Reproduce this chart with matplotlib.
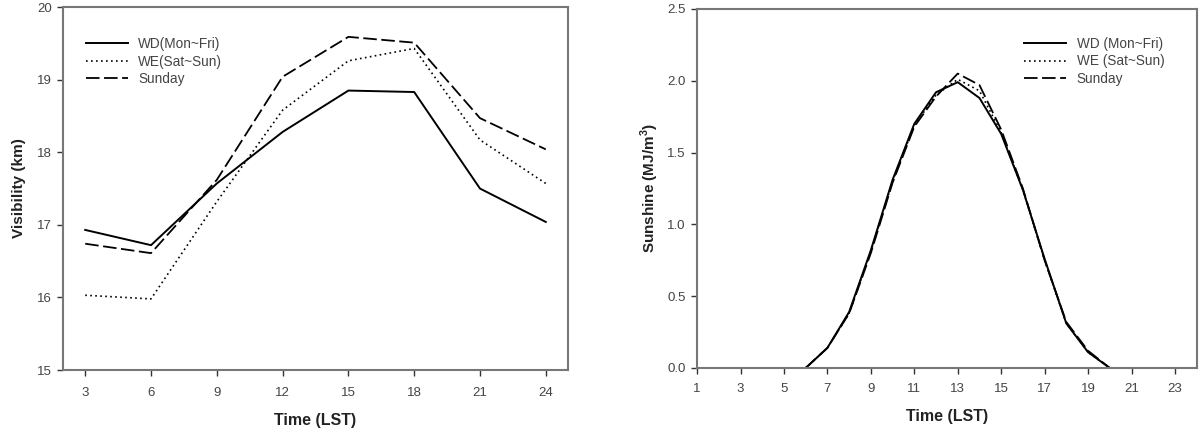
import matplotlib
matplotlib.use('Agg')
import matplotlib.pyplot as plt

plt.rcParams['font.family'] = ['Liberation Sans', 'DejaVu Sans']
plt.rcParams['mathtext.fontset'] = 'custom'
plt.rcParams['mathtext.rm'] = 'Liberation Sans'
plt.rcParams['mathtext.bf'] = 'Liberation Sans:bold'

# visibility by time of day
vis_hours = [3, 6, 9, 12, 15, 18, 21, 24]
vis_wd = [16.93, 16.72, 17.57, 18.28, 18.85, 18.83, 17.50, 17.04]
vis_we = [16.03, 15.98, 17.32, 18.58, 19.26, 19.43, 18.17, 17.57]
vis_sun = [16.74, 16.61, 17.62, 19.04, 19.59, 19.51, 18.47, 18.04]

# sunshine by hour
sun_hours = [6, 7, 8, 9, 10, 11, 12, 13, 14, 15, 16, 17, 18, 19, 20]
sun_wd = [0.0, 0.14, 0.39, 0.82, 1.31, 1.70, 1.92, 1.99, 1.88, 1.63, 1.24, 0.76, 0.31, 0.11, 0.0]
sun_we = [0.0, 0.14, 0.38, 0.81, 1.30, 1.69, 1.90, 2.01, 1.93, 1.64, 1.24, 0.75, 0.31, 0.11, 0.0]
sun_sun = [0.0, 0.14, 0.38, 0.80, 1.29, 1.68, 1.89, 2.05, 1.97, 1.66, 1.25, 0.75, 0.32, 0.12, 0.0]

grey = '#777777'
txt = '#444444'
dash = (0, (7.5, 2.5))
dots = (0, (1, 2))

fig = plt.figure(figsize=(12.01, 4.3), dpi=100)
ax1 = fig.add_axes([0.0527, 0.1395, 0.42, 0.844])
ax2 = fig.add_axes([0.5804, 0.1442, 0.416, 0.835])

ax1.plot(vis_hours, vis_wd, color='black', lw=1.4, ls='-', label='WD(Mon~Fri)')
ax1.plot(vis_hours, vis_we, color='black', lw=1.2, ls=dots, label='WE(Sat~Sun)')
ax1.plot(vis_hours, vis_sun, color='black', lw=1.3, ls=dash, label='Sunday')
ax1.set_xlim(2, 25)
ax1.set_ylim(15, 20)
ax1.set_xticks(vis_hours)
ax1.set_yticks([15, 16, 17, 18, 19, 20])
ax1.set_xlabel('Time (LST)', fontsize=11.5, fontweight='bold', color='#222222', labelpad=10.5)
ax1.set_ylabel('Visibility (km)', fontsize=11, fontweight='bold', color='#222222', labelpad=8)
ax1.legend(loc='upper left', bbox_to_anchor=(0.031, 0.936), frameon=False, fontsize=9.8,
           handlelength=3.1, handletextpad=0.75, labelspacing=0.25, borderpad=0,
           labelcolor=txt)

ax2.plot(sun_hours, sun_wd, color='black', lw=1.4, ls='-', label='WD (Mon~Fri)')
ax2.plot(sun_hours, sun_we, color='black', lw=1.2, ls=dots, label='WE (Sat~Sun)')
ax2.plot(sun_hours, sun_sun, color='black', lw=1.3, ls=dash, label='Sunday')
ax2.set_xlim(1, 24)
ax2.set_ylim(0, 2.5)
ax2.set_xticks(range(1, 24, 2))
ax2.set_yticks([0.0, 0.5, 1.0, 1.5, 2.0, 2.5])
ax2.set_yticklabels(['0.0', '0.5', '1.0', '1.5', '2.0', '2.5'])
ax2.set_xlabel('Time (LST)', fontsize=11.5, fontweight='bold', color='#222222', labelpad=10)
ax2.set_ylabel(r'Sunshine (MJ/m$^{\mathbf{3}}$)', fontsize=11, fontweight='bold',
               color='#222222', labelpad=5)
ax2.legend(loc='upper left', bbox_to_anchor=(0.641, 0.941), frameon=False, fontsize=9.8,
           handlelength=3.1, handletextpad=0.75, labelspacing=0.25, borderpad=0,
           labelcolor=txt)

for ax, xpad in ((ax1, 8), (ax2, 7)):
    for s in ax.spines.values():
        s.set_color(grey)
        s.set_linewidth(1.5)
    ax.tick_params(direction='out', length=4, width=1, color='#333333',
                   labelsize=9.5, labelcolor=txt)
    ax.tick_params(axis='x', pad=xpad)
    ax.tick_params(axis='y', pad=4)

fig.savefig('out.png', dpi=100)
